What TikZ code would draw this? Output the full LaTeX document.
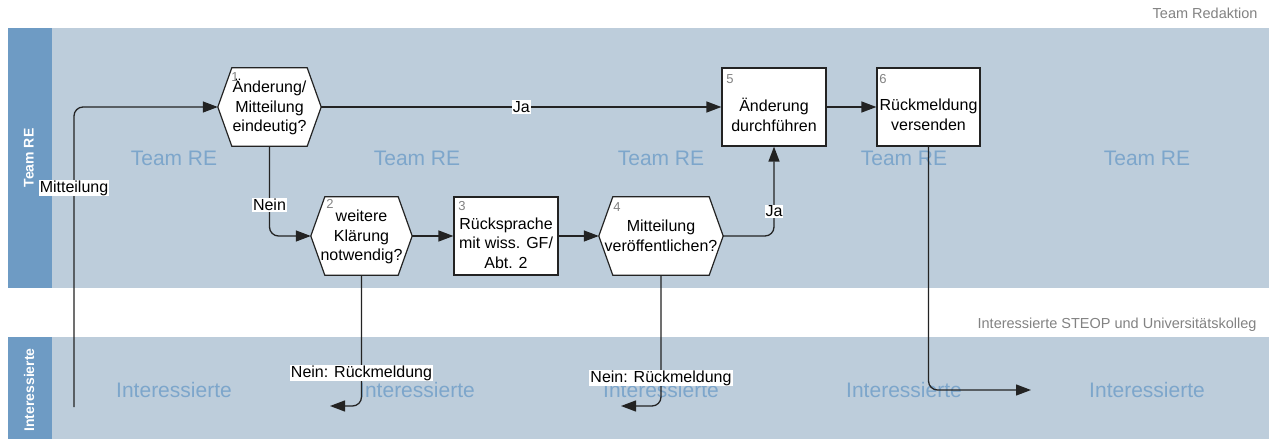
\documentclass[tikz,border=0pt]{standalone}
\usepackage{fontspec}
\setmainfont{Liberation Sans}
\usetikzlibrary{arrows.meta}
\pgfdeclarelayer{lanes}
\pgfdeclarelayer{shapes}
\pgfsetlayers{lanes,shapes,main}
\definecolor{lanebg}{RGB}{189,205,219}
\definecolor{headbg}{RGB}{110,155,196}
\definecolor{fainttxt}{RGB}{125,166,203}
\definecolor{greytxt}{RGB}{130,130,130}
\definecolor{linecol}{RGB}{35,35,35}
\tikzset{
  shapebox/.style={rectangle, draw=linecol, fill=white, line width=1.2pt, minimum height=78pt, inner sep=0pt},
  hexbox/.style={rectangle, draw=none, minimum height=78pt, inner sep=0pt},
  ntext/.style={align=center, font=\fontsize{16}{19.5}\selectfont, inner sep=0pt},
  numlbl/.style={font=\fontsize{13}{13}\selectfont, text=greytxt, inner sep=0pt},
  lbl/.style={fill=white, sharp corners, inner sep=1pt, font=\fontsize{16}{16}\selectfont},
  conn/.style={draw=linecol, line width=1.3pt, rounded corners=9pt, -{Triangle[length=15pt,width=11pt]}},
  lanetxt/.style={text=fainttxt, font=\fontsize{21}{21}\selectfont},
  headtxt/.style={text=white, font=\bfseries\fontsize{14}{14}\selectfont, rotate=90},
  pooltxt/.style={text=greytxt, font=\fontsize{14.5}{14.5}\selectfont, anchor=east}
}
\begin{document}
\begin{tikzpicture}[x=1pt,y=-1pt]
\useasboundingbox (0,0) rectangle (1269,439);
% pools
\begin{pgfonlayer}{lanes}
\fill[lanebg] (52,28) rectangle (1269,288);
\fill[headbg] (8,28) rectangle (52,288);
\fill[lanebg] (52,337) rectangle (1269,439);
\fill[headbg] (8,337) rectangle (52,439);
\end{pgfonlayer}
\node[headtxt] (h1) at (29,158) {Team RE};
\node[headtxt] (h2) at (29,390) {Interessierte};
\node[pooltxt] (p1) at (1261,13) {Team Redaktion};
\node[pooltxt] (p2) at (1260,325) {Interessierte STEOP und Universitätskolleg};
\foreach \i/\x in {1/174,2/417,3/661,4/904,5/1147}{
  \node[lanetxt] (t\i) at (\x,158) {Team RE};
  \node[lanetxt] (u\i) at (\x,390) {Interessierte};
}
% nodes
\node[hexbox, minimum width=103pt] (n1) at (269.5,107) {};
\node[hexbox, minimum width=101pt] (n2) at (361.5,236) {};
\node[shapebox, minimum width=104pt] (n3) at (506,236) {};
\node[hexbox, minimum width=124pt] (n4) at (661,236) {};
\node[shapebox, minimum width=104pt] (n5) at (774,107) {};
\node[shapebox, minimum width=103pt] (n6) at (928.5,107) {};
\begin{pgfonlayer}{shapes}
\foreach \n in {n1,n2,n4}{
  \filldraw[fill=white, draw=linecol, line width=1.2pt]
    (\n.west) -- ([xshift=14pt]\n.north west) -- ([xshift=-14pt]\n.north east)
    -- (\n.east) -- ([xshift=-14pt]\n.south east) -- ([xshift=14pt]\n.south west) -- cycle;
}
\end{pgfonlayer}
\node[ntext] (n1t) at (n1.center) {Änderung/\\Mitteilung\\eindeutig?};
\node[ntext] (n2t) at ([yshift=-1pt]n2.center) {weitere\\Klärung\\notwendig?};
\node[ntext] (n3t) at ([yshift=-7pt]n3.center) {Rücksprache\\mit wiss. GF/\\Abt. 2};
\node[ntext] (n4t) at (n4.center) {Mitteilung\\veröffentlichen?};
\node[ntext] (n5t) at ([yshift=-8pt]n5.center) {Änderung\\durchführen};
\node[ntext] (n6t) at ([yshift=-8pt]n6.center) {Rückmeldung\\versenden};
\node[numlbl] (k1) at (235,77) {1};
\node[numlbl] (k2) at (330,204) {2};
\node[numlbl] (k3) at (462,206) {3};
\node[numlbl] (k4) at (617,207) {4};
\node[numlbl] (k5) at (730,79) {5};
\node[numlbl] (k6) at (883,79) {6};
% connectors
\coordinate (start) at (74,407);
\coordinate (e2) at (330,406);
\coordinate (e4) at (621,406);
\coordinate (e6) at (1031,390);
\draw[conn] (start) |- node[lbl, pos=0.365] {Mitteilung} (n1.west);
\draw[conn] (n1.east) -- node[lbl, pos=0.5] {Ja} (n5.west);
\draw[conn] (n1.south) |- node[lbl, pos=0.328] {Nein} (n2.west);
\draw[conn] (n2.east) -- (n3.west);
\draw[conn] (n3.east) -- (n4.west);
\draw[conn] (n4.east) -| node[lbl, pos=0.639] {Ja} (n5.south);
\draw[conn] (n5.east) -- (n6.west);
\draw[conn] (n2.south) |- node[lbl, pos=0.374] {Nein: Rückmeldung} (e2);
\draw[conn] (n4.south) |- node[lbl, pos=0.393] {Nein: Rückmeldung} (e4);
\draw[conn] (n6.south) |- (e6);
\end{tikzpicture}
\end{document}
